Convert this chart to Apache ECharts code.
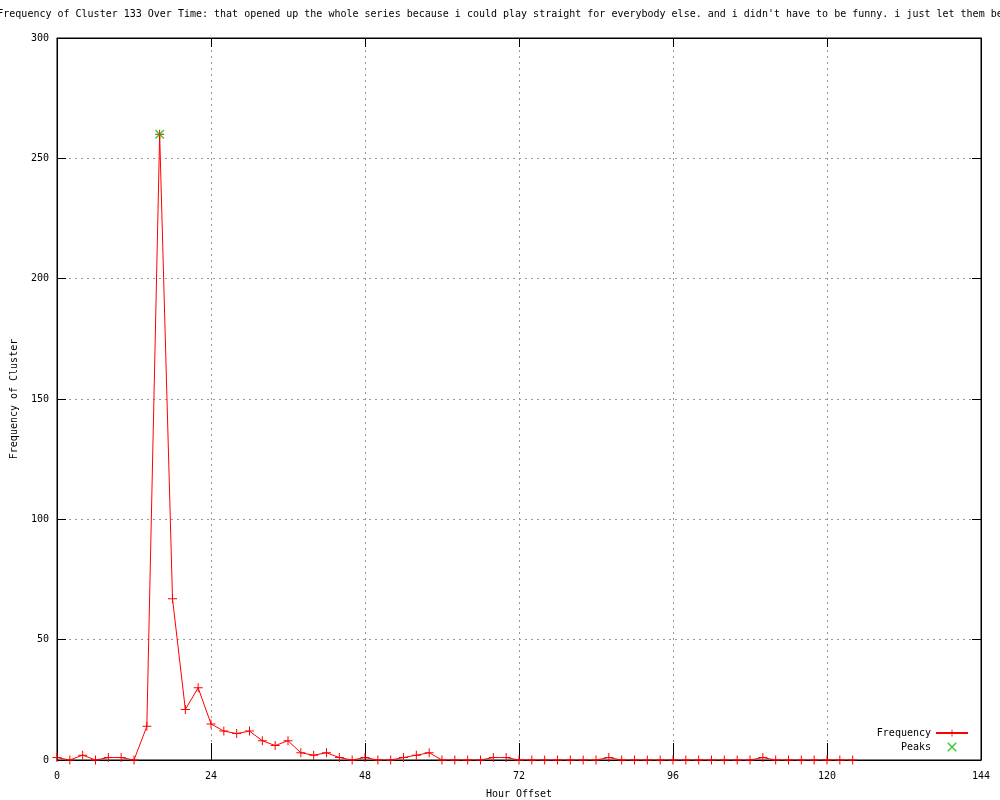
<!DOCTYPE html>
<html>
<head>
<meta charset="utf-8">
<script src="https://cdn.jsdelivr.net/npm/echarts@6/dist/echarts.min.js"></script>
<style>html,body{margin:0;padding:0;background:#fff}#c{width:1000px;height:800px}</style>
</head>
<body>
<div id="c"></div>
<script>
const titleText = "Frequency of Cluster 133 Over Time: that opened up the whole series because i could play straight for everybody else. and i didn't have to be funny. i just let them be";
const hours = [0,2,4,6,8,10,12,14,16,18,20,22,24,26,28,30,32,34,36,38,40,42,44,46,48,50,52,54,56,58,60,62,64,66,68,70,72,74,76,78,80,82,84,86,88,90,92,94,96,98,100,102,104,106,108,110,112,114,116,118,120,122,124];
const freq  = [1,0,2,0,1,1,0,14,260,67,21,30,15,12,11,12,8,6,8,3,2,3,1,0,1,0,0,1,2,3,0,0,0,0,1,1,0,0,0,0,0,0,0,1,0,0,0,0,0,0,0,0,0,0,0,1,0,0,0,0,0,0,0];
const peakHours = [16];
const peakValues = [260];

const FONT = "DejaVu Sans Mono";
const plusPath = 'path://M4,0h1v9h-1zM0,4h9v1h-9z';
const crossPath = 'path://M0,0L1,0L9,8L9,9L8,9L0,1Z M8,0L9,0L9,1L1,9L0,9L0,8Z';

const chart = echarts.init(document.getElementById('c'), null, {renderer: 'canvas'});
const txt = {fontFamily: FONT, fontSize: 10, color: '#000'};
chart.setOption({
  animation: false,
  backgroundColor: '#fff',
  title: {text: titleText, left: 'center', top: 4, textStyle: Object.assign({}, txt, {fontWeight: 'normal', fontSize: 10})},
  grid: {left: 57, right: 19, top: 38, bottom: 40, show: true, borderColor: '#000', borderWidth: 1, backgroundColor: 'transparent', containLabel: false, outerBoundsMode: 'none'},
  legend: {
    right: 31, top: 728, orient: 'vertical', align: 'right', padding: 0,
    itemWidth: 32, itemHeight: 9, itemGap: 4,
    textStyle: Object.assign({}, txt, {padding: [0, 0, 0, 0]}),
    data: ['Frequency', 'Peaks']
  },
  xAxis: [{
    type: 'value', min: 0, max: 144, interval: 24, position: 'bottom',
    name: 'Hour Offset', nameLocation: 'middle', nameGap: 29, nameTextStyle: txt,
    axisLine: {show: true, onZero: false, lineStyle: {color: '#000', width: 1}},
    axisTick: {show: true, inside: true, length: 17, lineStyle: {color: '#000'}},
    axisLabel: Object.assign({margin: 11}, txt),
    splitLine: {show: true, lineStyle: {color: '#999', type: [2, 4], width: 1}}
  }, {
    type: 'value', min: 0, max: 144, interval: 24, position: 'top',
    axisLine: {show: true, onZero: false, lineStyle: {color: '#000'}},
    axisTick: {show: true, inside: true, length: 9, lineStyle: {color: '#000'}},
    axisLabel: {show: false}, splitLine: {show: false}
  }],
  yAxis: [{
    type: 'value', min: 0, max: 300, interval: 50, position: 'left',
    name: 'Frequency of Cluster', nameLocation: 'middle', nameGap: 38, nameRotate: 90, nameTextStyle: txt,
    axisLine: {show: true, onZero: false, lineStyle: {color: '#000'}},
    axisTick: {show: true, inside: true, length: 9, lineStyle: {color: '#000'}},
    axisLabel: Object.assign({margin: 8}, txt),
    splitLine: {show: true, lineStyle: {color: '#999', type: [2, 4], width: 1}}
  }, {
    type: 'value', min: 0, max: 300, interval: 50, position: 'right',
    axisLine: {show: true, onZero: false, lineStyle: {color: '#000'}},
    axisTick: {show: true, inside: true, length: 9, lineStyle: {color: '#000'}},
    axisLabel: {show: false}, splitLine: {show: false}
  }],
  series: [{
    name: 'Frequency', type: 'line', xAxisIndex: 0, yAxisIndex: 0,
    data: hours.map((h, i) => [h, freq[i]]),
    symbol: plusPath, symbolSize: 9, showAllSymbol: true,
    lineStyle: {color: '#ff0000', width: 1},
    itemStyle: {color: '#ff0000', borderWidth: 0},
    emphasis: {disabled: true}, z: 3
  }, {
    name: 'Peaks', type: 'scatter', xAxisIndex: 0, yAxisIndex: 0,
    data: peakHours.map((h, i) => [h, peakValues[i]]),
    symbol: crossPath, symbolSize: 9,
    itemStyle: {color: '#00c000', borderWidth: 0},
    emphasis: {disabled: true}, z: 4
  }]
});
</script>
</body>
</html>
